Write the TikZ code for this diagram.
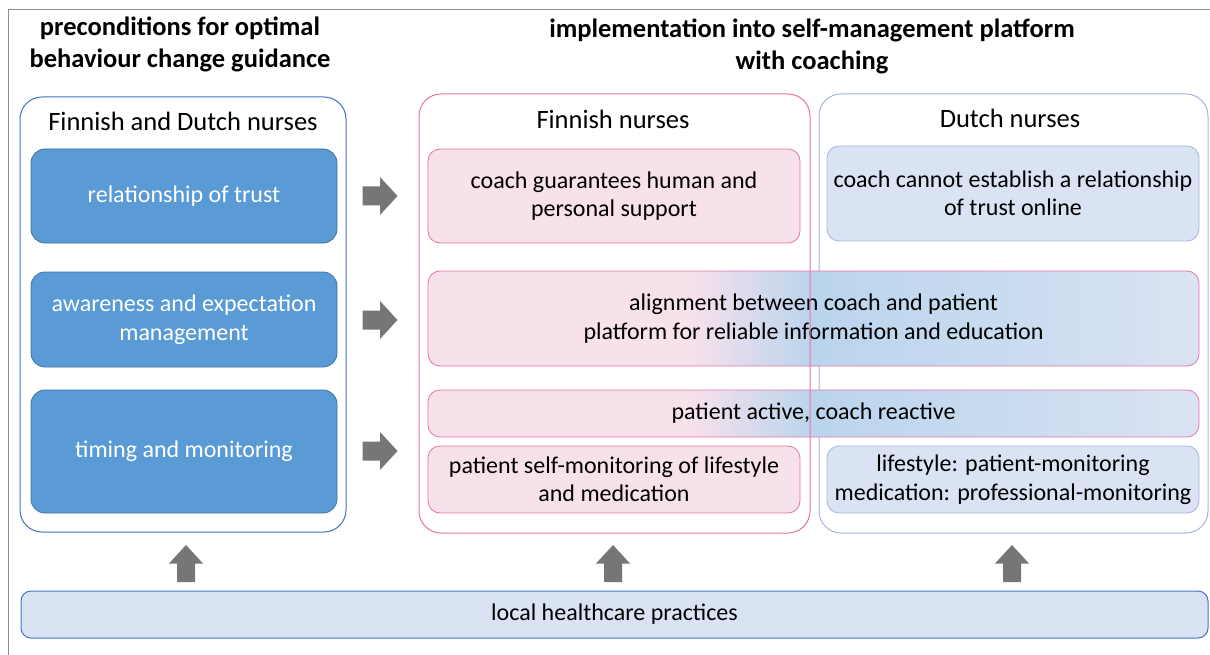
\documentclass[tikz,border=0pt]{standalone}
\usepackage{fontspec}
\setmainfont{Carlito}
\usetikzlibrary{positioning}

\definecolor{framegray}{RGB}{140,140,140}
\definecolor{arrowgray}{RGB}{118,118,118}
\definecolor{panelblue}{RGB}{68,114,196}
\definecolor{darkfill}{RGB}{91,155,213}
\definecolor{darkline}{RGB}{65,113,156}
\definecolor{pinkline}{RGB}{229,115,165}
\definecolor{pinkfill}{RGB}{247,225,235}
\definecolor{greyblue}{RGB}{166,182,214}
\definecolor{bluelight}{RGB}{218,227,243}
\definecolor{bluemid}{RGB}{186,212,237}

\pgfdeclarehorizontalshading{pinkblue}{100bp}{color(0bp)=(pinkfill); color(42bp)=(pinkfill); color(50bp)=(bluemid); color(75bp)=(bluelight); color(100bp)=(bluelight)}

\tikzset{
  panel/.style={draw, line width=1pt, rounded corners=22pt, inner sep=0pt},
  head/.style={font=\fontsize{26.5}{30}\selectfont, inner sep=0.75pt},
  title/.style={font=\bfseries\fontsize{26.5}{32}\selectfont, align=center, inner sep=0.75pt},
  darkbox/.style={draw=darkline, fill=darkfill, line width=0.8pt, rounded corners=14pt, text=white, font=\fontsize{24}{28.5}\selectfont, align=center},
  pinkbox/.style={draw=pinkline, fill=pinkfill, line width=0.8pt, rounded corners=12pt, font=\fontsize{24}{28.5}\selectfont, align=center},
  bluebox/.style={draw=greyblue, fill=bluelight, line width=0.8pt, rounded corners=12pt, font=\fontsize{24}{28.5}\selectfont, align=center},
  mixbox/.style={draw=pinkline, shading=pinkblue, line width=0.8pt, rounded corners=12pt, font=\fontsize{24}{28.5}\selectfont, align=center},
  blockarrow/.style={fill=arrowgray, draw=none}
}

\begin{document}
\begin{tikzpicture}[x=1pt,y=1pt,yscale=-1,xscale=1]
\useasboundingbox (0,0) rectangle (1210,655);

%Frame lines
\draw [framegray, line width=1pt] (8,655) -- (8,10) -- (1210,10) ;

% Text Node
\node (titleleft) at (180,44) [title] {preconditions for optimal\\behaviour change guidance};
% Text Node
\node (titleright) at (812,46) [title] {implementation into self-management platform\\with coaching};

%Shape: left panel
\node (leftpanel) at (183,314.5) [panel, draw=panelblue, minimum width=326pt, minimum height=435pt] {};
\node (bothhead) at (183,121) [head] {Finnish and Dutch nurses};
\node (trust) at (184,196) [darkbox, minimum width=306pt, minimum height=94pt] {relationship of trust};
\node (aware) at (184,319.5) [darkbox, minimum width=306pt, minimum height=95pt] {awareness and expectation\\management};
\node (timing) at (184,451.5) [darkbox, minimum width=306pt, minimum height=123pt] {timing and monitoring};

%Shape: right (Dutch) panel
\node (dutchpanel) at (1013.5,313.5) [panel, draw=greyblue, minimum width=389pt, minimum height=439pt] {};
\node (dutchhead) at (1010,118) [head] {Dutch nurses};
\node (online) at (1013,193.5) [bluebox, minimum width=372pt, minimum height=95pt] {coach cannot establish a relationship\\of trust online};
\node (profmon) at (1013,479.5) [bluebox, minimum width=372pt, minimum height=67pt] {lifestyle: patient-monitoring\\medication: professional-monitoring};

%Shape: middle (Finnish) boxes
\node (support) at (614,196) [pinkbox, minimum width=372pt, minimum height=94pt] {coach guarantees human and\\personal support};
\node (selfmon) at (614,479.5) [pinkbox, minimum width=372pt, minimum height=67pt] {patient self-monitoring of lifestyle\\and medication};
\node (alignment) at (813.5,318.5) [mixbox, minimum width=771pt, minimum height=95pt] {alignment between coach and patient\\platform for reliable information and education};
\node (active) at (813.5,413.5) [mixbox, minimum width=771pt, minimum height=47pt] {patient active, coach reactive};

%Shape: Finnish panel (on top, no fill)
\node (finpanel) at (614.5,313.5) [panel, draw=pinkline, minimum width=391pt, minimum height=439pt] {};
\node (finhead) at (613,119) [head] {Finnish nurses};

%Shape: bottom bar
\node (local) at (614.5,614.5) [draw=panelblue, fill=bluelight, line width=1pt, rounded corners=10pt, minimum width=1187pt, minimum height=47pt, font=\fontsize{24}{28.5}\selectfont] {local healthcare practices};

%Block arrows to the right
\foreach \ay in {196,320,451}{
  \fill [blockarrow, shift={(380,\ay)}] (-17.5,-9.5) -- (0,-9.5) -- (0,-19) -- (17.5,0) -- (0,19) -- (0,9.5) -- (-17.5,9.5) -- cycle ;
}

%Block arrows upwards
\foreach \ax in {186,613,1012}{
  \fill [blockarrow, shift={(\ax,563.5)}] (-9,18.5) -- (-9,0) -- (-17,0) -- (0,-18.5) -- (17,0) -- (9,0) -- (9,18.5) -- cycle ;
}

\end{tikzpicture}
\end{document}
